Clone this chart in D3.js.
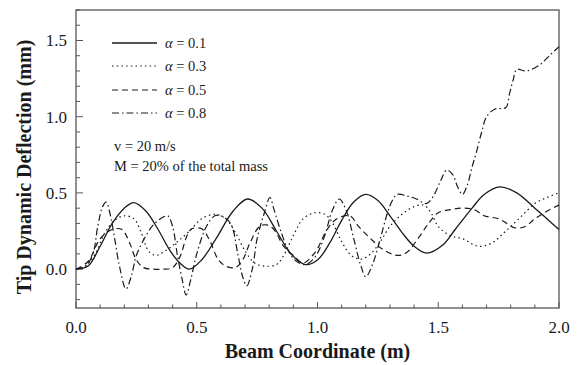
<!DOCTYPE html>
<html><head><meta charset="utf-8">
<script src="https://cdn.jsdelivr.net/npm/d3@7"></script>
<style>
html,body{margin:0;padding:0;background:#fff;}
svg{display:block;}
text{font-family:"Liberation Serif","Times New Roman",serif;fill:#1a1a1a;}
</style></head>
<body>
<svg id="chart" width="582" height="365"></svg>
<script>
// ---- data (Beam Coordinate in m, Tip Dynamic Deflection in mm) ----
const seriesNames = ["α = 0.1", "α = 0.3", "α = 0.5", "α = 0.8"];
const alphaValues = ["0.1", "0.3", "0.5", "0.8"];

const x01 = [0,0.05,0.1,0.15,0.2,0.24,0.29,0.34,0.39,0.43,0.469,0.52,0.58,0.65,0.71,0.77,0.83,0.89,0.95,1.0,1.05,1.1,1.15,1.2,1.25,1.3,1.35,1.4,1.452,1.52,1.57,1.64,1.69,1.756,1.825,1.9,1.95,2.0];
const y01 = [0,0.02,0.15,0.3,0.4,0.436,0.38,0.26,0.12,0.04,0.0,0.06,0.2,0.38,0.46,0.40,0.25,0.10,0.03,0.06,0.17,0.32,0.44,0.49,0.45,0.35,0.24,0.15,0.105,0.16,0.26,0.40,0.49,0.54,0.50,0.40,0.33,0.26];

const x03 = [0,0.04,0.08,0.12,0.16,0.2,0.24,0.27,0.3,0.33,0.37,0.42,0.47,0.52,0.576,0.62,0.66,0.7,0.74,0.78,0.83,0.86,0.9,0.94,0.99,1.03,1.06,1.1,1.14,1.18,1.22,1.26,1.3,1.35,1.4,1.44,1.47,1.5,1.55,1.6,1.666,1.72,1.78,1.84,1.9,1.95,2.0];
const y03 = [0,0.02,0.1,0.24,0.32,0.35,0.33,0.24,0.12,0.09,0.12,0.18,0.25,0.33,0.36,0.33,0.24,0.12,0.04,0.02,0.03,0.09,0.22,0.33,0.37,0.36,0.31,0.18,0.09,0.065,0.10,0.18,0.28,0.36,0.41,0.42,0.37,0.28,0.22,0.2,0.15,0.17,0.25,0.34,0.43,0.47,0.50];

const x05 = [0,0.05,0.1,0.15,0.19,0.22,0.25,0.28,0.32,0.36,0.40,0.43,0.46,0.48,0.52,0.55,0.59,0.62,0.66,0.69,0.72,0.76,0.79,0.82,0.86,0.9,0.94,0.99,1.04,1.08,1.134,1.17,1.22,1.27,1.333,1.37,1.42,1.46,1.5,1.55,1.6,1.65,1.69,1.75,1.82,1.86,1.9,1.95,2.0];
const y05 = [0,0.05,0.2,0.26,0.26,0.18,0.06,0.01,0.0,0.0,0.01,0.08,0.22,0.265,0.265,0.2,0.06,0.02,0.01,0.06,0.17,0.28,0.29,0.26,0.15,0.09,0.04,0.11,0.26,0.33,0.35,0.28,0.2,0.13,0.09,0.11,0.21,0.30,0.37,0.39,0.40,0.39,0.35,0.33,0.27,0.28,0.33,0.38,0.42];

const x08 = [0,0.04,0.07,0.09,0.11,0.125,0.14,0.16,0.18,0.207,0.23,0.25,0.29,0.32,0.36,0.38,0.40,0.42,0.44,0.456,0.475,0.5,0.54,0.575,0.6,0.64,0.67,0.69,0.707,0.73,0.75,0.78,0.803,0.82,0.85,0.88,0.91,0.95,0.99,1.03,1.06,1.09,1.12,1.15,1.18,1.2,1.23,1.26,1.29,1.31,1.33,1.37,1.41,1.45,1.48,1.51,1.535,1.56,1.58,1.6,1.62,1.64,1.655,1.68,1.7,1.735,1.78,1.795,1.81,1.825,1.865,1.92,1.96,2.0];
const y08 = [0,0.02,0.1,0.28,0.41,0.44,0.37,0.2,0.02,-0.13,-0.04,0.09,0.22,0.29,0.34,0.35,0.28,0.09,-0.07,-0.17,-0.07,0.1,0.28,0.35,0.35,0.30,0.1,-0.05,-0.11,0.0,0.2,0.37,0.47,0.39,0.24,0.12,0.055,0.03,0.08,0.22,0.38,0.46,0.38,0.2,0.02,-0.05,0.04,0.2,0.37,0.45,0.49,0.48,0.46,0.43,0.48,0.58,0.65,0.62,0.54,0.49,0.55,0.67,0.75,0.9,1.0,1.05,1.06,1.15,1.24,1.31,1.30,1.34,1.40,1.46];

const xTickValues = [0, 0.5, 1.0, 1.5, 2.0];
const yTickValues = [0, 0.5, 1.0, 1.5];
const annotations = ["v = 20 m/s", "M = 20% of the total mass"];
const xTitle = "Beam Coordinate (m)";
const yTitle = "Tip Dynamic Deflection (mm)";

// ---- layout ----
const L = 76, R = 559, T = 10, B = 308;
const svg = d3.select("#chart");
const x = d3.scaleLinear().domain([0, 2]).range([L, R]);
const y = d3.scaleLinear().domain([-0.255, 1.7]).range([B, T]);
const axisColor = "#555";

const xMinor = d3.range(0, 2.0001, 0.1);
const yMinor = d3.range(-0.2, 1.7001, 0.1);
const isMajor = d => Math.abs(d * 2 - Math.round(d * 2)) < 1e-6;

// x axis ticks (inward) built from the scale
const gx = svg.append("g").attr("transform", `translate(0,${B})`);
gx.selectAll("line").data(xMinor).enter().append("line")
  .attr("x1", d => x(d)).attr("x2", d => x(d))
  .attr("y1", 0).attr("y2", d => isMajor(d) ? -6 : -3.5)
  .attr("stroke", axisColor).attr("stroke-width", 1);
gx.selectAll("text").data(xTickValues).enter().append("text")
  .attr("x", d => x(d)).attr("y", 25)
  .attr("text-anchor", "middle").attr("font-size", 17)
  .text(d => d3.format(".1f")(d));

const gy = svg.append("g").attr("transform", `translate(${L},0)`);
gy.selectAll("line").data(yMinor).enter().append("line")
  .attr("y1", d => y(d)).attr("y2", d => y(d))
  .attr("x1", 0).attr("x2", d => isMajor(d) ? 7 : 4)
  .attr("stroke", axisColor).attr("stroke-width", 1);
gy.selectAll("text").data(yTickValues).enter().append("text")
  .attr("x", -9).attr("y", d => y(d) + 6)
  .attr("text-anchor", "end").attr("font-size", 17)
  .text(d => d3.format(".1f")(d));

// frame
svg.append("rect").attr("x", L).attr("y", T).attr("width", R - L).attr("height", B - T)
  .attr("fill", "none").attr("stroke", axisColor).attr("stroke-width", 1.3);

// titles
svg.append("text").attr("x", (L + R) / 2).attr("y", 358)
  .attr("text-anchor", "middle").attr("font-size", 20).attr("font-weight", "bold")
  .text(xTitle);
svg.append("text").attr("transform", `translate(31,${(T + B) / 2 + 8}) rotate(-90)`)
  .attr("text-anchor", "middle").attr("font-size", 20).attr("font-weight", "bold")
  .text(yTitle);

// series
const dashes = [null, "1.5,3.2", "6,4", "7,3,1.5,3"];
const series = [[x01, y01], [x03, y03], [x05, y05], [x08, y08]];
const line = d3.line().x(d => x(d[0])).y(d => y(d[1])).curve(d3.curveCatmullRom.alpha(0.5));
series.forEach((s, i) => {
  const pts = s[0].map((v, j) => [v, s[1][j]]);
  svg.append("path").datum(pts).attr("d", line)
    .attr("fill", "none").attr("stroke", "#1a1a1a")
    .attr("stroke-width", i === 0 ? 1.3 : 1.2)
    .attr("stroke-dasharray", dashes[i]);
});

// legend
const legY = [43, 66, 90, 113];
seriesNames.forEach((n, i) => {
  svg.append("line").attr("x1", 112).attr("x2", 157).attr("y1", legY[i]).attr("y2", legY[i])
    .attr("stroke", "#1a1a1a").attr("stroke-width", i === 0 ? 1.3 : 1.2)
    .attr("stroke-dasharray", dashes[i]);
  const t = svg.append("text").attr("x", 165).attr("y", legY[i] + 5).attr("font-size", 14.5);
  t.append("tspan").attr("font-style", "italic").text("α");
  t.append("tspan").text(" = " + alphaValues[i]);
});
annotations.forEach((a, i) => {
  svg.append("text").attr("x", 114).attr("y", 151 + i * 20).attr("font-size", 14.5).text(a);
});
</script>
</body></html>
